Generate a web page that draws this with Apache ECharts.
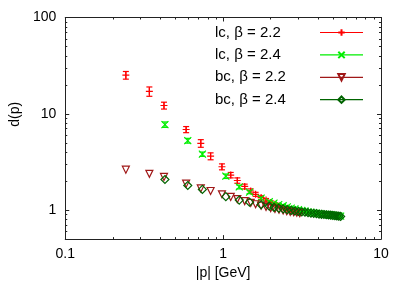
<!DOCTYPE html>
<html><head><meta charset="utf-8">
<script src="https://cdn.jsdelivr.net/npm/echarts@6/dist/echarts.min.js"></script>
<style>html,body{margin:0;padding:0;background:#fff}#c{width:407px;height:285px}</style>
</head><body><div id="c"></div>
<script>
// ---- data ----
const names = ['lc, β = 2.2', 'lc, β = 2.4', 'bc, β = 2.2', 'bc, β = 2.4'];
const x22 = [0.242,0.341,0.422,0.583,0.722,0.833,0.983,1.117,1.23,1.37,1.495,1.606,1.74,1.87,2.0,2.13,2.26,2.4,2.53,2.66,2.8,2.93,3.06];
const yLc22 = [25.2,17.1,12.2,6.87,4.94,3.63,2.82,2.31,2.03,1.76,1.58,1.46,1.35,1.27,1.20,1.15,1.10,1.06,1.03,1.00,0.98,0.96,0.94];
const eLc22 = [2.3,1.9,1.0,0.5,0.45,0.3,0.2,0.15,0.13,0.1,0.08,0.07,0.06,0.05,0.05,0.04,0.04,0.03,0.03,0.03,0.03,0.02,0.02];
const yBc22 = [2.63,2.38,2.21,1.88,1.68,1.58,1.46,1.37,1.30,1.24,1.19,1.15,1.11,1.08,1.05,1.03,1.01,0.99,0.975,0.96,0.95,0.94,0.93];
const x24 = [0.428,0.597,0.739,1.04,1.265,1.47,1.74,1.96,2.1,2.25,2.4,2.55,2.7,2.85,3.0,3.15,3.3,3.45,3.6,3.75,3.9,4.05,4.2,4.35,4.5,4.65,4.8,4.95,5.1,5.25,5.4,5.55];
const yLc24 = [7.73,5.26,3.81,2.25,1.74,1.54,1.33,1.22,1.18,1.14,1.11,1.08,1.05,1.03,1.01,0.99,0.98,0.96,0.95,0.94,0.93,0.92,0.91,0.905,0.90,0.895,0.89,0.885,0.88,0.875,0.87,0.865];
const eLc24 = [0.5,0.3,0.2,0.12,0.08,0.06,0.05,0.04,0.03,0.03,0.03,0.02,0.02,0.02,0.02,0.02,0.02,0.02,0.02,0.02,0.02,0.02,0.02,0.02,0.02,0.02,0.02,0.02,0.02,0.02,0.02,0.02];
const yBc24 = [2.08,1.80,1.64,1.38,1.27,1.21,1.136,1.10,1.07,1.05,1.03,1.01,0.995,0.98,0.97,0.96,0.95,0.94,0.93,0.925,0.92,0.91,0.905,0.90,0.895,0.89,0.885,0.88,0.875,0.87,0.865,0.86];
const xMajor = [0.1, 1, 10];
const xMinor = [0.2,0.3,0.4,0.5,0.6,0.7,0.8,0.9,2,3,4,5,6,7,8,9];
const yMajor = [1, 10, 100];
const yMinor = [0.6,0.7,0.8,0.9,2,3,4,5,6,7,8,9,20,30,40,50,60,70,80,90];

const FONT = 'Liberation Sans';
const AX = '#222';
const colors = ['#ff0000', '#00ee00', '#a01818', '#006400'];

function errSeries(xs, ys, es, color) {
  return {
    type: 'custom', name: 'err', silent: true, z: 2,
    encode: {x: 0, y: [1, 2]},
    data: xs.map((x, i) => [x, ys[i] - es[i], ys[i] + es[i]]),
    renderItem(params, api) {
      const x = api.value(0);
      const p1 = api.coord([x, api.value(1)]), p2 = api.coord([x, api.value(2)]);
      const cw = 3, st = {stroke: color, lineWidth: 1.2};
      return {type: 'group', children: [
        {type: 'line', shape: {x1: p1[0], y1: p1[1], x2: p2[0], y2: p2[1]}, style: st},
        {type: 'line', shape: {x1: p1[0]-cw, y1: p1[1], x2: p1[0]+cw, y2: p1[1]}, style: st},
        {type: 'line', shape: {x1: p2[0]-cw, y1: p2[1], x2: p2[0]+cw, y2: p2[1]}, style: st}
      ]};
    }
  };
}
function markSeries(name, xs, ys, color, symbol, size, rotate) {
  return {
    type: 'line', name, silent: true, z: 3,
    data: xs.map((x, i) => [x, ys[i]]),
    symbol, symbolSize: size, symbolRotate: rotate || 0, showAllSymbol: true,
    itemStyle: {color: 'rgba(0,0,0,0)', borderColor: color, borderWidth: 1.2},
    lineStyle: {color, width: 1, opacity: 0}
  };
}
function xAx(pos, vals, len, showLine, main) {
  return {
    type: 'log', logBase: 10, min: 0.1, max: 10, position: pos, gridIndex: 0,
    axisLine: {show: showLine, lineStyle: {color: AX, width: 1}},
    axisTick: {show: true, inside: true, length: len, customValues: vals, lineStyle: {color: AX}},
    axisLabel: main ? {show: true, customValues: xMajor, color: '#000', fontSize: 14, fontFamily: FONT, margin: 8,
      formatter: v => String(v)} : {show: false},
    splitLine: {show: false},
    name: main ? '|p| [GeV]' : '', nameLocation: 'middle', nameGap: 26,
    nameTextStyle: {color: '#000', fontSize: 14, fontFamily: FONT}
  };
}
function yAx(pos, vals, len, showLine, main) {
  return {
    type: 'log', logBase: 10, min: 0.5, max: 100, position: pos, gridIndex: 0,
    axisLine: {show: showLine, lineStyle: {color: AX, width: 1}},
    axisTick: {show: true, inside: true, length: len, customValues: vals, lineStyle: {color: AX}},
    axisLabel: main ? {show: true, customValues: yMajor, color: '#000', fontSize: 14, fontFamily: FONT, margin: 9,
      formatter: v => String(v)} : {show: false},
    splitLine: {show: false},
    name: main ? 'd(p)' : '', nameLocation: 'middle', nameGap: 30,
    nameTextStyle: {color: '#000', fontSize: 14, fontFamily: FONT, padding: [0, 0, 0, 28]}
  };
}

const chart = echarts.init(document.getElementById('c'), null, {renderer: 'canvas'});
chart.setOption({
  animation: false,
  backgroundColor: '#fff',
  grid: {left: 58, right: 26, top: 17.5, bottom: 44, containLabel: false},
  xAxis: [xAx('bottom', xMajor, 4, true, true), xAx('bottom', xMinor, 2, false, false),
          xAx('top', xMajor, 4, true, false), xAx('top', xMinor, 2, false, false)],
  yAxis: [yAx('left', yMajor, 4, true, true), yAx('left', yMinor, 2, false, false),
          yAx('right', yMajor, 4, true, false), yAx('right', yMinor, 2, false, false)],
  legend: {
    data: names, orient: 'vertical', left: 215, top: 25, padding: 0, itemGap: 7.4,
    itemWidth: 43, itemHeight: 8, align: 'right',
    lineStyle: {opacity: 1, width: 1.2},
    formatter: '{a|{name}}',
    textStyle: {rich: {a: {width: 100, align: 'left', fontSize: 15, color: '#000', fontFamily: FONT}}}
  },
  series: [
    errSeries(x22, yLc22, eLc22, colors[0]),
    markSeries(names[0], x22, yLc22, colors[0], 'path://M0,4H8M4,0V8', 7),
    errSeries(x24, yLc24, eLc24, colors[1]),
    markSeries(names[1], x24, yLc24, colors[1], 'path://M0,0L8,8M0,8L8,0', 7),
    markSeries(names[2], x22, yBc22, colors[2], 'triangle', 7, 180),
    markSeries(names[3], x24, yBc24, colors[3], 'diamond', 8)
  ]
});
</script>
</body></html>
